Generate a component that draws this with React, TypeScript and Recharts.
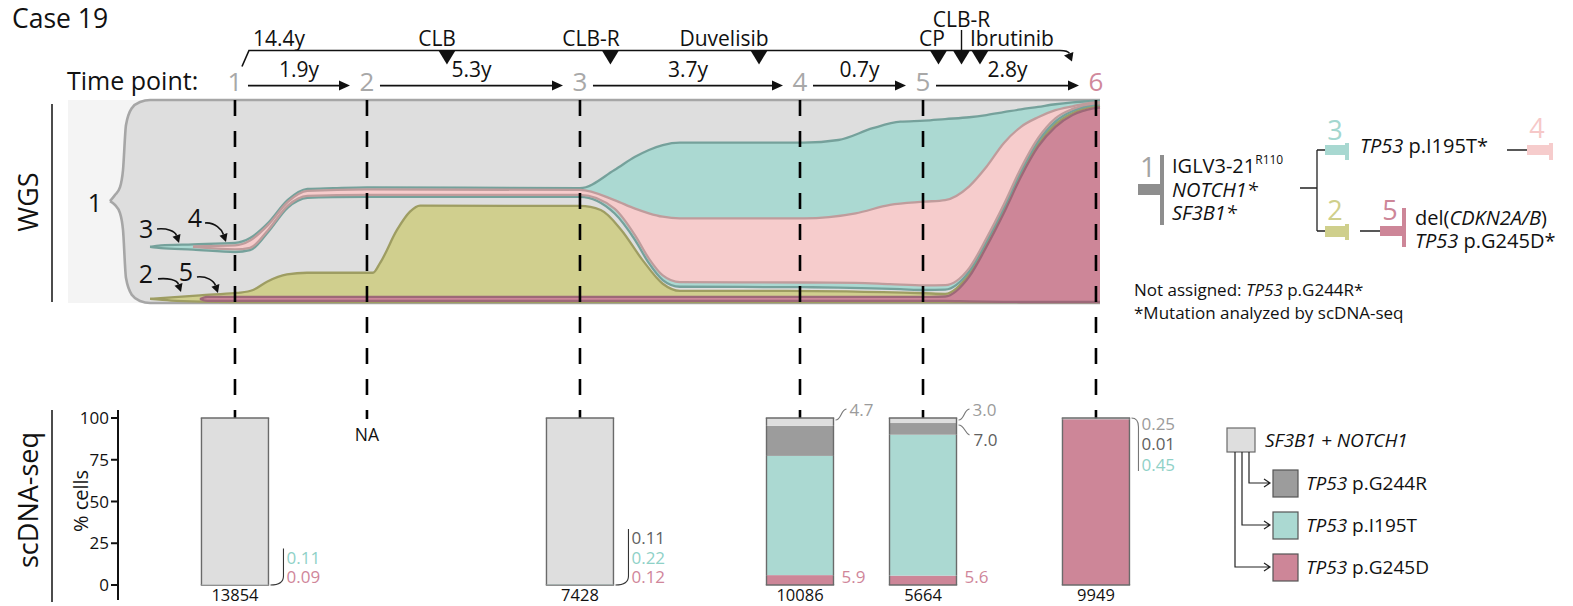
import React from 'react';
import {
  ComposedChart,
  Area,
  Bar,
  XAxis,
  YAxis,
  CartesianGrid,
  ReferenceLine,
  ReferenceDot,
} from 'recharts';

const FONT = '"Open Sans", "Noto Sans", "DejaVu Sans", sans-serif';
const INK = '#111111';
const W = 1573;
const H = 606;

/* ---------------- timeline ---------------- */
const timePointLabels = ['1', '2', '3', '4', '5', '6'];
// position along the schematic timeline: 0 = left edge of the WGS panel, 1000 = right edge
const timePointPos = [161.8, 289.7, 496.1, 709.3, 828.5, 996.1];
const intervalLabels = ['1.9y', '5.3y', '3.7y', '0.7y', '2.8y'];
const totalSpanLabel = '14.4y';

const treatmentNames = ['CLB', 'CLB-R', 'Duvelisib', 'CP', 'CLB-R', 'Ibrutinib'];
const treatmentStartPos = [367.2, 525.6, 669.6, 843.5, 865.8, 883.7];
const treatmentLabelPos = [357.6, 506.8, 635.7, 837.2, 865.8, 914.7];
const treatmentLabelTier = [0, 0, 0, 0, 1, 0];

/* ---------------- WGS clonal fractions: [position, lower %, upper %] ---------------- */
const clone1Band = [
  [40.7, 50.2, 50.2],
  [45.5, 48.3, 53.2],
  [50.4, 44.3, 57.1],
  [53.3, 36.0, 65.5],
  [56.2, 12.3, 87.7],
  [62.0, 3.9, 96.1],
  [69.8, 1.0, 99.0],
  [79.5, 0, 100],
  [1000, 0, 100],
];

const clone2Band = [
  [79.5, 2.0, 2.0],
  [100.0, 1.2, 2.8],
  [127.9, 0.7, 3.8],
  [161.8, 0.5, 4.9],
  [166.7, 0.5, 5.1],
  [179.3, 0.5, 6.4],
  [192.8, 0.5, 10.5],
  [212.2, 0.5, 14.1],
  [231.6, 0.5, 14.9],
  [295.5, 0.5, 14.9],
  [302.3, 0.5, 19.6],
  [318.8, 0.5, 36.0],
  [331.4, 0.5, 45.0],
  [341.1, 0.5, 48.0],
  [496.1, 0.5, 47.8],
  [516.2, 0.5, 45.8],
  [536.1, 0.5, 36.0],
  [556.2, 0.5, 21.5],
  [576.3, 0.5, 9.5],
  [592.9, 0.5, 6.0],
  [696.4, 0.5, 6.0],
  [829.9, 0.5, 4.8],
  [849.9, 0.5, 4.5],
  [873.3, 0.5, 14.3],
  [890.0, 0.5, 29.0],
  [906.7, 0.5, 45.5],
  [923.4, 0.5, 63.5],
  [940.0, 0.5, 78.3],
  [956.8, 0.5, 88.1],
  [973.4, 0.5, 93.6],
  [993.5, 0.5, 96.7],
  [1000, 0.5, 97.1],
];

const clone5Band = [
  [127.9, 2.0, 2.0],
  [135.0, 1.0, 3.0],
  [835.0, 1.0, 3.0],
  [849.9, 1.0, 3.2],
  [873.3, 0.8, 13.0],
  [890.0, 0.7, 27.7],
  [906.7, 0.6, 44.2],
  [923.4, 0.5, 62.2],
  [940.0, 0.5, 77.0],
  [956.8, 0.5, 86.8],
  [973.4, 0.5, 92.6],
  [993.5, 0.5, 95.9],
  [1000, 0.5, 96.3],
];

const clone3Band = [
  [79.5, 27.6, 27.6],
  [90.0, 27.0, 28.4],
  [121.1, 26.3, 28.9],
  [161.8, 25.1, 29.6],
  [176.4, 26.0, 32.0],
  [194.0, 35.0, 39.5],
  [213.0, 47.0, 50.8],
  [232.0, 51.8, 56.2],
  [257.0, 52.2, 56.6],
  [289.7, 52.3, 57.0],
  [496.1, 52.3, 56.6],
  [529.5, 44.2, 65.5],
  [549.5, 31.0, 72.0],
  [562.9, 19.6, 75.4],
  [576.3, 11.3, 77.8],
  [592.9, 8.0, 79.0],
  [713.1, 7.8, 79.0],
  [746.5, 7.6, 80.3],
  [779.8, 7.2, 86.1],
  [806.6, 6.8, 89.3],
  [829.9, 6.4, 89.8],
  [849.9, 6.6, 90.6],
  [873.3, 15.6, 91.5],
  [890.0, 30.3, 92.6],
  [906.7, 46.8, 94.0],
  [923.4, 64.8, 95.4],
  [940.0, 79.6, 96.6],
  [956.8, 89.4, 97.9],
  [973.4, 94.6, 98.8],
  [993.5, 97.5, 99.5],
  [1000, 97.8, 99.6],
];

const clone4Band = [
  [121.1, 27.6, 27.9],
  [161.8, 26.4, 28.4],
  [176.4, 27.2, 30.8],
  [194.0, 36.0, 38.5],
  [213.0, 48.0, 49.8],
  [232.0, 52.8, 55.2],
  [289.7, 53.3, 56.0],
  [496.1, 53.3, 55.7],
  [529.5, 46.5, 50.7],
  [549.5, 33.3, 46.5],
  [562.9, 21.9, 44.2],
  [576.3, 13.6, 42.5],
  [592.9, 10.3, 41.7],
  [713.1, 10.1, 41.7],
  [763.2, 9.9, 44.2],
  [796.5, 9.3, 48.3],
  [829.9, 8.7, 49.9],
  [849.9, 8.8, 50.7],
  [873.3, 17.2, 57.5],
  [890.0, 31.9, 67.1],
  [906.7, 48.4, 78.7],
  [923.4, 66.4, 86.8],
  [940.0, 81.2, 91.5],
  [956.8, 91.0, 95.0],
  [973.4, 95.6, 96.9],
  [993.5, 98.2, 98.7],
  [1000, 98.4, 98.9],
];

// where each clone number is pointed at in the fish plot: [position, %]
const cloneTagTargets = {
  '1': [40.7, 50.2],
  '3': [107.6, 27.6],
  '4': [153.1, 27.6],
  '2': [109.5, 3.0],
  '5': [145.3, 2.0],
};

/* ---------------- scDNA-seq (% of cells per clone) ---------------- */
const scTimePoints = ['1', '3', '4', '5', '6'];
const pctSF3B1Notch1 = [99.8, 99.55, 4.7, 3.0, 0.25];
const pctG244R = [0, 0.11, 18.0, 7.0, 0.01];
const pctI195T = [0.11, 0.22, 71.4, 84.4, 0.45];
const pctG245D = [0.09, 0.12, 5.9, 5.6, 99.29];
const cellCounts = [13854, 7428, 10086, 5664, 9949];
const naTimePoint = '2';

/* ---------------- styling ---------------- */
const CLONE_STYLE = {
  c1: { fill: '#dedede', stroke: '#a6a6a6' },
  c2: { fill: '#d0cf8e', stroke: '#9e9d62' },
  c5: { fill: '#cd8698', stroke: '#9d6878' },
  c3: { fill: '#abd9d2', stroke: '#75a19b' },
  c4: { fill: '#f6cccc', stroke: '#bf9c9c' },
};
const SEG_FILL = { g245d: '#cd8698', i195t: '#abd9d2', g244r: '#9c9c9c', wt: '#dedede' };
const NOTE_COLOR = { wt: '#9b9b9b', g244r: '#606060', i195t: '#8fd1c7', g245d: '#d0869a' };
const EDGE = '#6a6a6a';

// panel geometry
const PANEL_LEFT = 68;
const PANEL_TOP = 100;
const PANEL_W = 1032;
const PANEL_H = 203;
const FISH_MARGIN = {
  top: PANEL_TOP,
  left: PANEL_LEFT,
  right: W - PANEL_LEFT - PANEL_W,
  bottom: H - PANEL_TOP - PANEL_H,
};
const AXIS_X = 118;
const BAR_TOP = 410;
const BAR_BOTTOM = 600;
const BAR_X0 = ((AXIS_X - PANEL_LEFT) / PANEL_W) * 1000;
const BAR_Y_DOMAIN = [-9, 104.8];

// header rows, in fish-plot % units (above 100 = above the panel)
const Y_TP_LABEL = 104.4;
const Y_ARROW = 107.1;
const Y_BRACKET = 124.4;
const Y_TREAT_LABEL = 126.6;
const Y_TREAT_LABEL_UPPER = 136.0;
const Y_CONNECTOR_TOP = 134.5;
const Y_DASH_END = -57.1;
const Y_NA = 90.4;

const TAG_LAYOUT = {
  '1': { text: [-15, 1] },
  '3': { text: [-33, -19], from: [-22, -18], to: [0, -4] },
  '4': { text: [-31, -30], from: [-21, -24], to: [0, -5] },
  '2': { text: [-35, -24], from: [-23, -18], to: [0, -5] },
  '5': { text: [-32, -28], from: [-21, -22], to: [0, -6] },
};

const toRows = (band) => band.map(([x, lo, hi]) => ({ x, band: [lo, hi] }));

const fmt = (v) => (v < 1 ? v.toFixed(2) : v.toFixed(1));

/* ---------------- header shapes ---------------- */
function TimeArrow(p) {
  const { x1, x2, y1, text } = p;
  if (x1 == null) return null;
  const xs = x1 + 13;
  const xe = x2 - 17;
  return (
    <g>
      <line x1={xs} y1={y1} x2={xe - 9} y2={y1} stroke={INK} strokeWidth={1.6} />
      <polygon points={`${xe},${y1} ${xe - 11},${y1 - 5} ${xe - 11},${y1 + 5}`} fill={INK} />
      <text x={(xs + xe) / 2} y={y1 - 9} textAnchor="middle" fontSize={21} fill={INK}>
        {text}
      </text>
    </g>
  );
}

function SpanBracket(p) {
  const { x1, x2, y1, text } = p;
  if (x1 == null) return null;
  const tx = x2 - 24;
  const ty = y1 + 11;
  return (
    <g>
      <path
        d={`M${x1 + 7},${y1 + 16} L${x1 + 14},${y1} L${x2 - 36},${y1} Q${x2 - 28},${y1} ${x2 - 26.5},${y1 + 3}`}
        fill="none"
        stroke={INK}
        strokeWidth={1.6}
      />
      <polygon points={`${tx},${ty} ${tx + 1.4},${y1 + 1.5} ${tx - 8},${y1 + 5}`} fill={INK} />
      <text x={x1 + 18} y={y1 - 4} fontSize={21} fill={INK}>
        {text}
      </text>
    </g>
  );
}

function Triangle(p) {
  const { cx, cy } = p;
  if (cx == null) return null;
  return <polygon points={`${cx - 8.5},${cy} ${cx + 8.5},${cy} ${cx},${cy + 14}`} fill={INK} />;
}

function TextAt(p) {
  const { cx, cy, text, size, color, anchor } = p;
  if (cx == null) return null;
  return (
    <text x={cx} y={cy} textAnchor={anchor || 'middle'} fontSize={size} fill={color || INK}>
      {text}
    </text>
  );
}

function CloneTag(p) {
  const { cx, cy, tag } = p;
  if (cx == null) return null;
  const L = TAG_LAYOUT[tag];
  let arrow = null;
  if (L.from) {
    const fx = cx + L.from[0];
    const fy = cy + L.from[1];
    const ex = cx + L.to[0];
    const ey = cy + L.to[1];
    const c2x = ex - 4;
    const c2y = ey - 12;
    const len = Math.hypot(ex - c2x, ey - c2y);
    const ux = (ex - c2x) / len;
    const uy = (ey - c2y) / len;
    const bx = ex - 8 * ux;
    const by = ey - 8 * uy;
    const nx = -uy;
    const ny = ux;
    arrow = (
      <g>
        <path
          d={`M${fx},${fy} C${fx + 10},${fy - 1} ${c2x},${c2y} ${bx},${by}`}
          fill="none"
          stroke={INK}
          strokeWidth={1.6}
        />
        <polygon
          points={`${ex},${ey} ${bx + 4.2 * nx},${by + 4.2 * ny} ${bx - 4.2 * nx},${by - 4.2 * ny}`}
          fill={INK}
        />
      </g>
    );
  }
  return (
    <g>
      <text
        x={cx + L.text[0]}
        y={cy + L.text[1]}
        textAnchor="middle"
        dominantBaseline="central"
        fontSize={25}
        fill={INK}
      >
        {tag}
      </text>
      {arrow}
    </g>
  );
}

/* ---------------- WGS fish plot ---------------- */
function FishPlot() {
  const clones = [
    ['c1', clone1Band],
    ['c2', clone2Band],
    ['c5', clone5Band],
    ['c3', clone3Band],
    ['c4', clone4Band],
  ];
  return (
    <ComposedChart width={W} height={H} margin={FISH_MARGIN}>
      <CartesianGrid horizontal={false} vertical={false} fill="#f4f4f4" fillOpacity={1} stroke="none" />
      <XAxis dataKey="x" type="number" domain={[0, 1000]} hide />
      <YAxis type="number" domain={[0, 100]} hide />
      {clones.map(([id, band]) => (
        <Area
          key={id}
          data={toRows(band)}
          dataKey="band"
          type="monotoneX"
          fill={CLONE_STYLE[id].fill}
          fillOpacity={1}
          stroke={CLONE_STYLE[id].stroke}
          strokeWidth={id === 'c1' ? 2.6 : 2.3}
          dot={false}
          activeDot={false}
          isAnimationActive={false}
        />
      ))}

      {timePointPos.map((x, i) => (
        <ReferenceLine
          key={`dash-${i}`}
          segment={[
            { x, y: 100 },
            { x, y: Y_DASH_END },
          ]}
          stroke="#000"
          strokeWidth={2.6}
          strokeDasharray="16 15"
          ifOverflow="visible"
        />
      ))}

      {Object.keys(cloneTagTargets).map((tag) => (
        <ReferenceDot
          key={`tag-${tag}`}
          x={cloneTagTargets[tag][0]}
          y={cloneTagTargets[tag][1]}
          ifOverflow="visible"
          shape={(p) => <CloneTag {...p} tag={tag} />}
        />
      ))}

      {timePointLabels.map((t, i) => (
        <ReferenceDot
          key={`tp-${t}`}
          x={timePointPos[i]}
          y={Y_TP_LABEL}
          ifOverflow="visible"
          shape={(p) => (
            <TextAt {...p} text={t} size={26} color={i === timePointLabels.length - 1 ? '#d0889b' : '#a8a8a8'} />
          )}
        />
      ))}

      {intervalLabels.map((lab, i) => (
        <ReferenceLine
          key={`int-${i}`}
          segment={[
            { x: timePointPos[i], y: Y_ARROW },
            { x: timePointPos[i + 1], y: Y_ARROW },
          ]}
          ifOverflow="visible"
          shape={(p) => <TimeArrow {...p} text={lab} />}
        />
      ))}

      <ReferenceLine
        segment={[
          { x: timePointPos[0], y: Y_BRACKET },
          { x: timePointPos[timePointPos.length - 1], y: Y_BRACKET },
        ]}
        ifOverflow="visible"
        shape={(p) => <SpanBracket {...p} text={totalSpanLabel} />}
      />

      {treatmentNames.map((name, i) => (
        <ReferenceDot
          key={`tri-${i}`}
          x={treatmentStartPos[i]}
          y={Y_BRACKET}
          ifOverflow="visible"
          shape={(p) => <Triangle {...p} />}
        />
      ))}
      {treatmentNames.map((name, i) => (
        <ReferenceDot
          key={`tl-${i}`}
          x={treatmentLabelPos[i]}
          y={treatmentLabelTier[i] ? Y_TREAT_LABEL_UPPER : Y_TREAT_LABEL}
          ifOverflow="visible"
          shape={(p) => <TextAt {...p} text={name} size={21} />}
        />
      ))}
      {treatmentNames.map((name, i) =>
        treatmentLabelTier[i] ? (
          <ReferenceLine
            key={`conn-${i}`}
            segment={[
              { x: treatmentStartPos[i], y: Y_BRACKET },
              { x: treatmentStartPos[i], y: Y_CONNECTOR_TOP },
            ]}
            stroke={INK}
            strokeWidth={1.4}
            ifOverflow="visible"
          />
        ) : null
      )}
    </ComposedChart>
  );
}

/* ---------------- scDNA-seq bars ---------------- */
const NOTE_LAYOUT = {
  '1': { bottomStack: ['i195t', 'g245d'] },
  '3': { bottomStack: ['g244r', 'i195t', 'g245d'] },
  '4': { topCallouts: ['wt'], bottomSide: 'g245d' },
  '5': { topCallouts: ['wt', 'g244r'], bottomSide: 'g245d' },
  '6': { topStack: ['wt', 'g244r', 'i195t'] },
};

const barRows = scTimePoints.map((tp, i) => ({
  tp,
  x: timePointPos[timePointLabels.indexOf(tp)],
  g245d: pctG245D[i],
  i195t: pctI195T[i],
  g244r: pctG244R[i],
  wt: pctSF3B1Notch1[i],
  cells: cellCounts[i],
}));

const NOTE_SIZE = 17;
const NOTE_STEP = 19.5;

function noteText(x, y, key, row, anchor = 'start') {
  return (
    <text
      key={`${key}-${y}`}
      x={x}
      y={y}
      textAnchor={anchor}
      dominantBaseline="central"
      fontSize={NOTE_SIZE}
      fill={NOTE_COLOR[key]}
    >
      {fmt(row[key])}
    </text>
  );
}

function bottomNotes(row, x, xr, y0) {
  const L = NOTE_LAYOUT[row.tp] || {};
  const out = [];
  out.push(
    <text key="cells" x={x + (xr - x) / 2} y={y0 + 10} textAnchor="middle" dominantBaseline="central" fontSize={16.5} fill={INK}>
      {row.cells}
    </text>
  );
  if (L.bottomStack) {
    const n = L.bottomStack.length;
    const lx = xr + 15;
    const topY = y0 - 8 - NOTE_STEP * (n - 1) - 9;
    out.push(
      <path
        key="brk"
        d={`M${xr + 2},${y0} C${xr + 10},${y0} ${lx},${y0 - 2} ${lx},${y0 - 9} L${lx},${topY}`}
        fill="none"
        stroke="#333"
        strokeWidth={1.1}
      />
    );
    L.bottomStack.forEach((key, j) => {
      const k = n - 1 - j;
      out.push(noteText(lx + 3, y0 - 8 - NOTE_STEP * k, key, row));
    });
  }
  if (L.bottomSide) {
    out.push(noteText(xr + 8, y0 - 8, L.bottomSide, row));
  }
  return out;
}

function topNotes(row, xr, yTop) {
  const L = NOTE_LAYOUT[row.tp] || {};
  const out = [];
  if (L.topCallouts) {
    L.topCallouts.forEach((key, j) => {
      if (j === 0) {
        out.push(
          <path
            key="c0"
            d={`M${xr + 2},${yTop + 2} C${xr + 8},${yTop + 2} ${xr + 7},${yTop - 8} ${xr + 13},${yTop - 9}`}
            fill="none"
            stroke="#777"
            strokeWidth={1.1}
          />
        );
        out.push(noteText(xr + 16, yTop - 9, key, row));
      } else {
        out.push(
          <path
            key="c1"
            d={`M${xr + 2},${yTop + 7} C${xr + 8},${yTop + 7} ${xr + 8},${yTop + 15} ${xr + 13},${yTop + 17}`}
            fill="none"
            stroke="#777"
            strokeWidth={1.1}
          />
        );
        out.push(noteText(xr + 17, yTop + 21, key, row));
      }
    });
  }
  if (L.topStack) {
    const lx = xr + 9;
    out.push(
      <path
        key="ts"
        d={`M${xr + 2},${yTop} C${xr + 7},${yTop} ${lx},${yTop + 3} ${lx},${yTop + 9} L${lx},${yTop + 53}`}
        fill="none"
        stroke="#777"
        strokeWidth={1.1}
      />
    );
    L.topStack.forEach((key, j) => {
      out.push(noteText(lx + 3, yTop + 5 + 20.5 * j, key, row));
    });
  }
  return out;
}

function segmentShape(key) {
  return (p) => {
    const { x, y, width, height, payload } = p;
    if (x == null || payload == null) return null;
    const top = Math.min(y, y + height);
    const bottom = Math.max(y, y + height);
    const xr = x + width;
    return (
      <g>
        <rect x={x} y={top} width={width} height={bottom - top} fill={SEG_FILL[key]} />
        <line x1={x} y1={top} x2={x} y2={bottom} stroke={EDGE} strokeWidth={1.4} />
        <line x1={xr} y1={top} x2={xr} y2={bottom} stroke={EDGE} strokeWidth={1.4} />
        {key === 'wt' && <line x1={x - 0.7} y1={top} x2={xr + 0.7} y2={top} stroke={EDGE} strokeWidth={1.4} />}
        {key === 'g245d' && (
          <line x1={x - 0.7} y1={bottom} x2={xr + 0.7} y2={bottom} stroke={EDGE} strokeWidth={1.4} />
        )}
        {key === 'g245d' && bottomNotes(payload, x, xr, bottom)}
        {key === 'wt' && topNotes(payload, xr, top)}
      </g>
    );
  };
}

function CellBars() {
  const order = ['g245d', 'i195t', 'g244r', 'wt'];
  return (
    <ComposedChart
      width={W}
      height={H}
      data={barRows}
      margin={{ top: BAR_TOP, left: PANEL_LEFT, right: W - PANEL_LEFT - PANEL_W, bottom: H - BAR_BOTTOM }}
    >
      <XAxis dataKey="x" type="number" domain={[BAR_X0, 1000]} hide />
      <YAxis
        type="number"
        domain={BAR_Y_DOMAIN}
        ticks={[0, 25, 50, 75, 100]}
        width={AXIS_X - PANEL_LEFT}
        axisLine={{ stroke: INK, strokeWidth: 2 }}
        tickLine={{ stroke: INK, strokeWidth: 2 }}
        tickSize={7}
        tick={{ fontSize: 17, fill: INK, fontFamily: FONT }}
      />
      {order.map((key) => (
        <Bar
          key={key}
          dataKey={key}
          stackId="cells"
          barSize={67}
          fill={SEG_FILL[key]}
          shape={segmentShape(key)}
          isAnimationActive={false}
        />
      ))}
      <ReferenceDot
        x={timePointPos[timePointLabels.indexOf(naTimePoint)]}
        y={Y_NA}
        ifOverflow="visible"
        shape={(p) => (
          <text x={p.cx} y={p.cy} textAnchor="middle" dominantBaseline="central" fontSize={17.5} fill={INK}>
            NA
          </text>
        )}
      />
    </ComposedChart>
  );
}

/* ---------------- side labels and legends ---------------- */
function Annotations() {
  const it = { fontStyle: 'italic' };
  return (
    <svg width={W} height={H} style={{ position: 'absolute', left: 0, top: 0 }} fontFamily={FONT}>
      <text x={12} y={28} fontSize={26.5} fill={INK}>
        Case 19
      </text>
      <text x={67} y={90} fontSize={25} fill={INK}>
        Time point:
      </text>

      <text transform="translate(38,202) rotate(-90)" textAnchor="middle" fontSize={27} fill={INK}>
        WGS
      </text>
      <line x1={52} y1={104} x2={52} y2={302} stroke={INK} strokeWidth={1.5} />
      <text transform="translate(38,500) rotate(-90)" textAnchor="middle" fontSize={27} fill={INK}>
        scDNA-seq
      </text>
      <line x1={52} y1={410} x2={52} y2={602} stroke={INK} strokeWidth={1.5} />
      <text transform="translate(88,501) rotate(-90)" textAnchor="middle" fontSize={20} fill={INK}>
        % cells
      </text>

      {/* clone tree */}
      <text x={1148} y={177} fontSize={28} fill="#a3a3a3" textAnchor="middle">
        1
      </text>
      <rect x={1160} y={155} width={4} height={70} fill="#8e8e8e" />
      <rect x={1138} y={184} width={24} height={11} fill="#8e8e8e" />
      <text x={1172} y={173} fontSize={20} fill={INK}>
        IGLV3-21
        <tspan fontSize={12} dy={-9}>
          R110
        </tspan>
      </text>
      <text x={1172} y={197} fontSize={20} fill={INK} style={it}>
        NOTCH1*
      </text>
      <text x={1172} y={220} fontSize={20} fill={INK} style={it}>
        SF3B1*
      </text>
      <path
        d="M1300 188 H1317 M1317 150 V231 M1317 150 H1325 M1317 231 H1325 M1507 150 H1527 M1360 231 H1380"
        stroke="#222"
        strokeWidth={1.3}
        fill="none"
      />
      <rect x={1325} y={145} width={22} height={10} fill="#a8d8d1" />
      <rect x={1345} y={143} width={4} height={17} fill="#a8d8d1" />
      <text x={1335} y={140} fontSize={27} fill="#a3d7cf" textAnchor="middle">
        3
      </text>
      <text x={1360} y={153} fontSize={20} fill={INK}>
        <tspan style={it}>TP53</tspan> p.I195T*
      </text>
      <rect x={1527} y={145} width={23} height={10} fill="#f6cccc" />
      <rect x={1549} y={143} width={4} height={17} fill="#f6cccc" />
      <text x={1537} y={138} fontSize={27} fill="#f6c8c8" textAnchor="middle">
        4
      </text>

      <rect x={1325} y={226} width={22} height={11} fill="#cfcf8c" />
      <rect x={1345} y={224} width={4} height={16} fill="#cfcf8c" />
      <text x={1335} y={220} fontSize={27} fill="#cfcf8c" textAnchor="middle">
        2
      </text>
      <rect x={1380} y={226} width={23} height={10} fill="#cd8698" />
      <rect x={1402} y={208} width={4} height={39} fill="#cd8698" />
      <text x={1390} y={220} fontSize={27} fill="#cd8698" textAnchor="middle">
        5
      </text>
      <text x={1415} y={225} fontSize={20} fill={INK}>
        del(<tspan style={it}>CDKN2A/B</tspan>)
      </text>
      <text x={1415} y={248} fontSize={20} fill={INK}>
        <tspan style={it}>TP53</tspan> p.G245D*
      </text>
      <text x={1134} y={296} fontSize={17} fill={INK}>
        Not assigned: <tspan style={it}>TP53</tspan> p.G244R*
      </text>
      <text x={1134} y={319} fontSize={17} fill={INK}>
        *Mutation analyzed by scDNA-seq
      </text>

      {/* scDNA-seq legend */}
      <rect x={1227} y={428} width={28} height={24} fill="#dedede" stroke={EDGE} strokeWidth={1.2} />
      <text x={1265} y={440} fontSize={19} fill={INK} dominantBaseline="central" style={it}>
        SF3B1 + NOTCH1
      </text>
      <path
        d="M1235 452 V567 H1270 M1242 452 V525 H1270 M1249 452 V483 H1270 M1264 563 L1270 567 L1264 571 M1264 521 L1270 525 L1264 529 M1264 479 L1270 483 L1264 487"
        stroke="#222"
        strokeWidth={1.2}
        fill="none"
      />
      <rect x={1273} y={470} width={25} height={27} fill="#9c9c9c" stroke="#555" strokeWidth={1.2} />
      <rect x={1273} y={512} width={25} height={27} fill="#abd9d2" stroke="#555" strokeWidth={1.2} />
      <rect x={1273} y={554} width={25} height={27} fill="#cd8698" stroke="#555" strokeWidth={1.2} />
      <text x={1306} y={483} fontSize={19} fill={INK} dominantBaseline="central">
        <tspan style={it}>TP53</tspan> p.G244R
      </text>
      <text x={1306} y={525} fontSize={19} fill={INK} dominantBaseline="central">
        <tspan style={it}>TP53</tspan> p.I195T
      </text>
      <text x={1306} y={567} fontSize={19} fill={INK} dominantBaseline="central">
        <tspan style={it}>TP53</tspan> p.G245D
      </text>
    </svg>
  );
}

export default function App() {
  return (
    <div
      style={{
        position: 'absolute',
        left: 0,
        top: 0,
        width: W,
        height: H,
        background: '#fff',
        fontFamily: FONT,
        overflow: 'hidden',
      }}
    >
      <div style={{ position: 'absolute', left: 0, top: 0 }}>
        <FishPlot />
      </div>
      <div style={{ position: 'absolute', left: 0, top: 0 }}>
        <CellBars />
      </div>
      <Annotations />
    </div>
  );
}
